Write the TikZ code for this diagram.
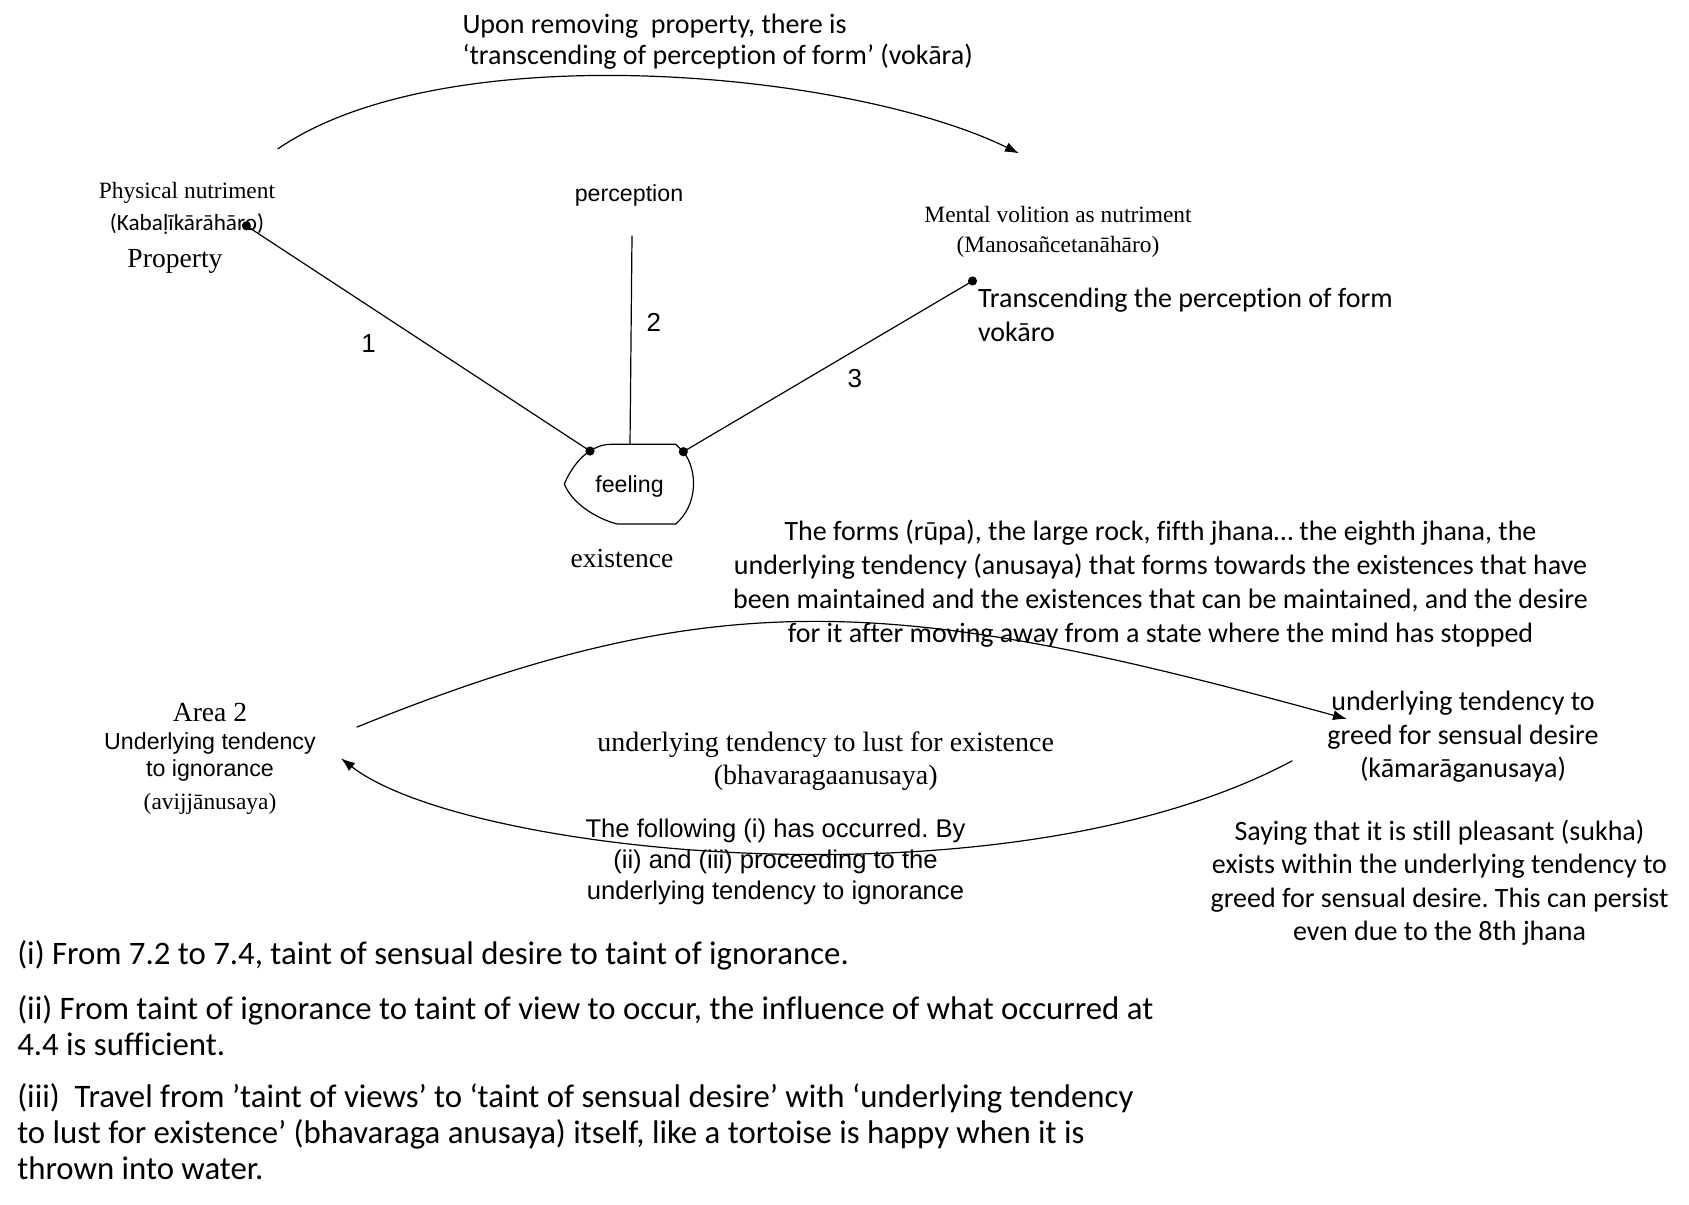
\documentclass[tikz,border=0pt]{standalone}
\usepackage{fontspec}
\setmainfont{Liberation Serif}
\newfontfamily\fcal[Ligatures=NoCommon]{Carlito}
\newfontfamily\fari{Liberation Sans}
\newfontfamily\ftms{Liberation Serif}
\usetikzlibrary{arrows.meta}
\frenchspacing
\tikzset{
  calA/.style={font=\fcal\fontsize{14pt}{16.75pt}\selectfont},
  calP/.style={font=\fcal\fontsize{14pt}{16.9pt}\selectfont},
  calTop/.style={font=\fcal\fontsize{14pt}{15.65pt}\selectfont},
  calSmall/.style={font=\fcal\fontsize{11.6pt}{14pt}\selectfont},
  calBig/.style={font=\fcal\fontsize{16.4pt}{17.85pt}\selectfont},
  ariA/.style={font=\fari\fontsize{11.6pt}{13.35pt}\selectfont},
  ariB/.style={font=\fari\fontsize{12.8pt}{15.4pt}\selectfont},
  ariNum/.style={font=\fari\fontsize{13pt}{15pt}\selectfont},
  tmsS/.style={font=\ftms\fontsize{11.7pt}{14pt}\selectfont},
  tmsL/.style={font=\ftms\fontsize{13.8pt}{16.75pt}\selectfont},
  tmsM/.style={font=\ftms\fontsize{14pt}{16.75pt}\selectfont},
  tip/.style={-{Latex[length=7pt,width=5pt]}},
  dot/.style={fill=black}
}
\begin{document}
\begin{tikzpicture}[x=0.5pt,y=-0.5pt,line width=0.6pt,
  every node/.style={inner sep=0pt,outer sep=0pt,align=center}]
\fill[white] (0,0) rectangle (1689,1204);
\useasboundingbox (0,0) rectangle (1689,1204);

% ---- upper part ----
\node[calTop,align=left,anchor=west] (top) at (462.5,41.5)
  {Upon removing\ \ property, there is\\‘transcending of perception of form’ (vokāra)};
\node[tmsS] (phys) at (187,192.5) {Physical nutriment};
\node[calSmall] (kaba) at (187,223.7) {(Kabaḷīkārāhāro)};
\node[tmsL] (prop) at (175,261.5) {Property};
\node[ariA] (perc) at (629,195.5) {perception};
\node[tmsS] (ment) at (1058,214) {Mental volition as nutriment};
\node[tmsS] (mano) at (1058,246.4) {(Manosañcetanāhāro)};
\node[calA,align=left,anchor=west] (trans) at (978,315)
  {Transcending the perception of form\\vokāro};
\node[ariNum] (n1) at (368.5,343.6) {1};
\node[ariNum] (n2) at (653.8,322) {2};
\node[ariNum] (n3) at (854.8,378.2) {3};
\node[ariA] (feel) at (629.5,486) {feeling};
\node[tmsL] (exist) at (622,558) {existence};

\coordinate (dA) at (246.4,225.8);
\coordinate (dB) at (590,451);
\coordinate (dC) at (683.3,451.7);
\coordinate (dD) at (972.5,281);
\coordinate (pTop) at (632,235.6);
\coordinate (pBot) at (630,444.3);

\draw (dB) .. controls (597,446.5) and (603,444.3) .. (612,444.3) -- (675.7,444.3) -- (dC)
  .. controls (698,470) and (698,505) .. (675.7,524) -- (617,524)
  .. controls (595,518) and (572,503) .. (564.3,484)
  .. controls (570,470) and (580,457) .. (dB);
\draw (dA) -- (dB);
\draw (pTop) -- (pBot);
\draw (dC) -- (dD);
\foreach \d in {dA,dB,dC,dD} \fill[dot] (\d) circle (2.3pt);

\coordinate (t0) at (277.7,149);
\coordinate (t1) at (1019,153.4);
\draw[tip] (t0) .. controls (445.7,33) and (851,71) .. (t1);

% ---- lower part ----
\node[calP] (forms) at (1160.5,583.5)
  {The forms (rūpa), the large rock, fifth jhana… the eighth jhana, the\\
   underlying tendency (anusaya) that forms towards the existences that have\\
   been maintained and the existences that can be maintained, and the desire\\
   for it after moving away from a state where the mind has stopped};
\node[tmsL] (area) at (210,712.3) {Area 2};
\node[ariA] (ign) at (210,757.2) {Underlying tendency\\to ignorance};
\node[tmsS] (avij) at (210,804.3) {(avijjānusaya)};
\node[tmsM] (lust) at (825.7,761.3)
  {underlying tendency to lust for existence\\(bhavaragaanusaya)};
\node[calA] (greed) at (1463,737)
  {underlying tendency to\\greed for sensual desire\\(kāmarāganusaya)};
\node[ariB] (foll) at (775.5,861.8)
  {The following (i) has occurred. By\\(ii) and (iii) proceeding to the\\underlying tendency to ignorance};
\node[calA] (say) at (1439.5,882.4)
  {Saying that it is still pleasant (sukha)\\exists within the underlying tendency to\\greed for sensual desire. This can persist\\even due to the 8th jhana};

\coordinate (u0) at (356.6,727.2);
\coordinate (u1) at (1347,719);
\draw[tip] (u0) .. controls (720,580) and (900,596.1) .. (u1);
\coordinate (w0) at (1292.4,760.7);
\coordinate (w1) at (341,758.3);
\draw[tip] (w0) .. controls (1010,912) and (464.9,855.1) .. (w1);

% ---- notes ----
\node[calBig,align=left,anchor=west] (ni) at (17.3,955)
  {(i) From 7.2 to 7.4, taint of sensual desire to taint of ignorance.};
\node[calBig,align=left,anchor=west] (nii) at (17.3,1025.5)
  {(ii) From taint of ignorance to taint of view to occur, the influence of what occurred at\\4.4 is sufficient.};
\node[calBig,align=left,anchor=west] (niii) at (17.3,1131.5)
  {(iii)\ \ Travel from ’taint of views’ to ‘taint of sensual desire’ with ‘underlying tendency\\to lust for existence’ (bhavaraga anusaya) itself, like a tortoise is happy when it is\\thrown into water.};
\end{tikzpicture}
\end{document}
